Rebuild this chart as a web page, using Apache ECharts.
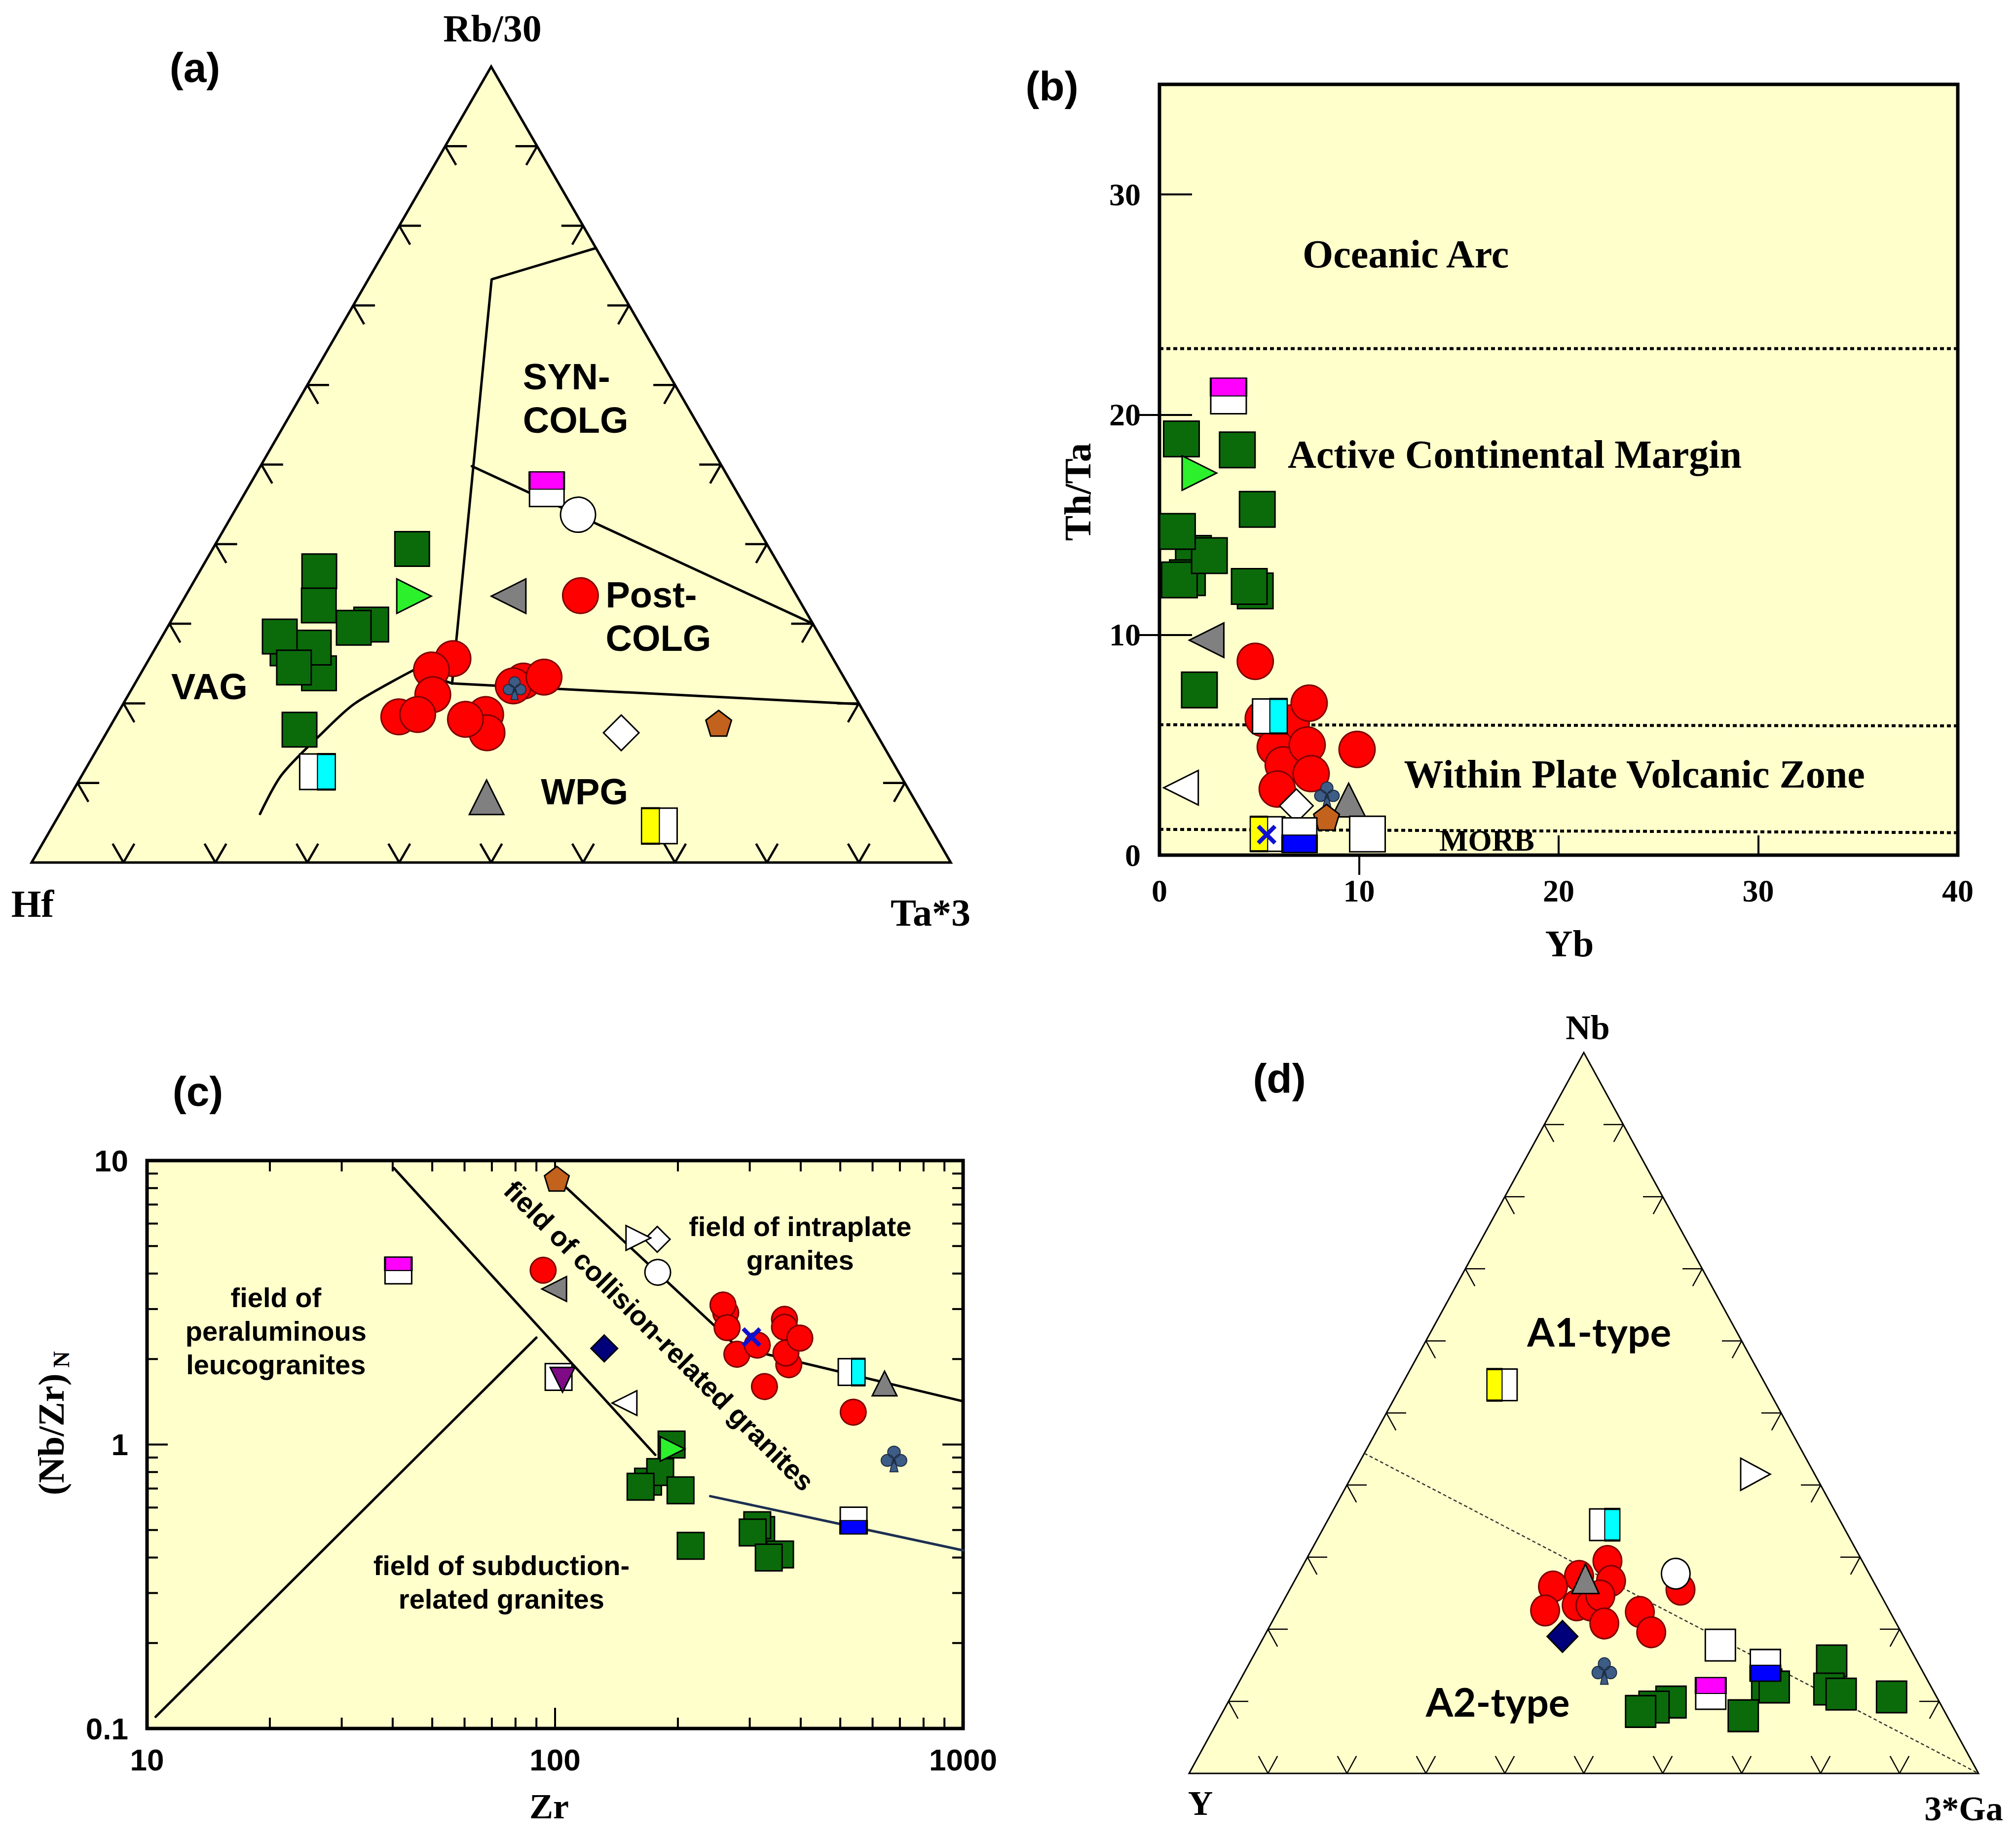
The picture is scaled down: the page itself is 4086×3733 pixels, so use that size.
<!DOCTYPE html>
<html>
<head>
<meta charset="utf-8">
<title>Granite discrimination diagrams (a)-(d)</title>
<script src="https://cdn.jsdelivr.net/npm/echarts@6/dist/echarts.min.js"></script>
<style>
html,body{margin:0;padding:0;background:#ffffff;}
#chart{width:4086px;height:3733px;}
</style>
</head>
<body>
<div id="chart"></div>
<script>
// ======================= DATA =======================
// ---- Panel (a): Hf - Rb/30 - Ta*3 ternary, each point = [Hf, Rb/30, Ta*3] in % ----
const aGreenSquares = [[58.7,26.9,14.4],[56.9,23.8,19.4],[48.1,29.9,22.0],[50.2,29.5,20.3],[50.4,36.6,13.0],[52.6,32.3,15.1],[55.8,27.0,17.2],[58.8,28.4,12.8],[59.2,24.5,16.3],[62.5,16.7,20.8],[38.9,39.4,21.7]];
const aRedCircles = [[23.5,33.5,42.9],[41.3,18.6,40.1],[42.3,16.3,41.4],[43.8,18.0,38.2],[41.3,25.6,33.0],[44.4,24.2,31.4],[45.8,21.1,33.1],[50.9,18.3,30.8],[48.7,18.6,32.7],[35.1,22.8,42.1],[36.5,22.2,41.3],[32.6,23.3,44.1]];
const aLimeTriangle = [[41.7,33.5,24.9]];
const aGrayLeftTriangle = [[31.4,33.5,35.2]];
const aGrayUpTriangle = [[46.4,8.2,45.4]];
const aWhiteCircle = [[18.7,43.7,37.6]];
const aWhiteDiamond = [[27.7,16.3,56.0]];
const aPentagon = [[16.5,17.5,66.0]];
const aClub = [[36.5,21.9,41.6]];
const aMagentaSquare = [[20.5,46.9,32.6]];
const aCyanSquare = [[63.2,11.4,25.4]];
const aYellowSquare = [[29.4,4.6,66.0]];
// field boundaries (a)
const aBoundSyn = [[0,77.2,22.8],[13.3,73.2,13.4],[43.0,22.5,34.5]];
const aBoundPost = [[27.2,49.8,23.0],[0,30.0,70.0]];
const aBoundWPG = [[43.0,22.5,34.5],[0,19.9,80.1]];
const aBoundVAG = [[72.1,6.1,21.8],[67.3,11.0,21.7],[60.2,16.3,23.5],[54.9,20.0,25.2],[46.3,24.2,29.5]];
const aBoundVAGend = [[46.3,24.2,29.5],[43.0,22.5,34.5]];
const aTickPercents = [10,20,30,40,50,60,70,80,90];
const aFieldLabels = [
  {text:'VAG', at:[69.6,22.1,8.3], align:'center'},
  {text:'WPG', at:[35.4,8.9,55.7], align:'center'},
  {text:'SYN-\nCOLG', at:[17.4,58.3,24.3], align:'left'},
  {text:'Post-\nCOLG', at:[22.1,30.9,47.0], align:'left'}
];

// ---- Panel (b): Yb vs Th/Ta, each point = [Yb, Th/Ta] ----
const bGreenSquares = [[1.7,13.7],[1.4,12.6],[1.0,12.5],[2.5,13.6],[0.9,14.7],[4.8,12.0],[4.5,12.2],[1.1,18.9],[3.9,18.4],[4.9,15.7],[2.0,7.5]];
const bRedCircles = [[4.8,8.8],[5.2,6.2],[6.6,6.0],[7.5,6.9],[5.8,4.9],[6.2,4.1],[7.4,5.0],[7.6,3.7],[5.9,3.0],[9.9,4.8]];
const bLimeTriangle = [[2.0,17.35]];
const bGrayLeftTriangle = [[2.36,9.76]];
const bWhiteLeftTriangle = [[1.08,3.06]];
const bWhiteDiamond = [[6.86,2.24]];
const bClub = [[8.39,2.76]];
const bGrayUpTriangle = [[9.48,2.50]];
const bPentagon = [[8.37,1.72]];
const bMagentaSquare = [[3.46,20.85]];
const bCyanSquare = [[5.53,6.31]];
const bYellowSquare = [[5.42,0.96]];
const bBlueCross = [[5.37,0.93]];
const bBlueSquare = [[7.02,0.91]];
const bWhiteSquare = [[10.42,0.96]];
const bLineArc = [[0,23.0],[40,23.0]];
const bLineWPVZ = [[0,5.92],[40,5.87]];
const bLineMORB = [[0,1.17],[40,1.02]];
const bXLabels = [0,10,20,30,40];
const bXTicksIn = [20,30];
const bXTicksOut = [10];
const bYLabels = [0,10,20,30];
const bYTicksLeft = [10,20,30];
const bYTicksRight = [10,20];
const bFieldLabels = [
  {text:'Oceanic Arc', at:[12.34,27.3], size:80},
  {text:'Active Continental Margin', at:[17.8,18.2], size:80},
  {text:'Within Plate Volcanic Zone', at:[23.8,3.68], size:80},
  {text:'MORB', at:[16.4,0.68], size:62}
];

// ---- Panel (c): Zr vs (Nb/Zr)N, each point = [Zr, (Nb/Zr)N] ----
const cGreenSquares = [[169,0.74],[181,0.80],[162,0.71],[203,0.69],[215,0.44],[320,0.50],[313,0.52],[305,0.49],[356,0.41],[334,0.40],[193,1.00]];
const cRedCircles = [[93.5,4.11],[262,2.91],[258,3.10],[264,2.58],[279,2.08],[313,2.24],[365,2.76],[365,2.59],[374,1.91],[368,2.10],[398,2.37],[326,1.60],[538,1.30]];
const cLimeTriangle = [[194,0.965]];
const cGrayLeftTriangle = [[99.5,3.53]];
const cGrayUpTriangle = [[642,1.64]];
const cWhiteCircle = [[178.5,4.04]];
const cWhiteDiamond = [[178,5.28]];
const cWhiteRightTriangle = [[160,5.34]];
const cWhiteLeftTriangle = [[148,1.40]];
const cPentagon = [[101,8.63]];
const cClub = [[677,0.89]];
const cNavyDiamond = [[132,2.18]];
const cWhiteSquare = [[102,1.73]];
const cPurpleTriangle = [[104.3,1.69]];
const cMagentaSquare = [[41.3,4.10]];
const cCyanSquare = [[533,1.80]];
const cBlueSquare = [[539,0.54]];
const cBlueCross = [[303,2.39]];
const cLine1 = [[40.3,9.4],[176,0.92]];
const cLine2 = [[10.5,0.11],[90,2.38]];
const cLine3 = [[101,8.63],[280,2.2],[1000,1.42]];
const cLine4 = [[240,0.658],[1000,0.424]];
const cMinorFactors = [2,3,4,5,6,7,8,9];
const cXDecades = [10,100];
const cYDecades = [0.1,1];
const cXMajorInner = [100];
const cYMajorInner = [1];
const cFieldLabels = [
  {text:'field of intraplate\ngranites', at:[398.7,5.12]},
  {text:'field of\nperaluminous\nleucogranites', at:[20.7,2.51]},
  {text:'field of subduction-\nrelated granites', at:[73.9,0.3275]},
  {text:'field of collision-related granites', at:[179.9,2.416], rot:-45}
];

// ---- Panel (d): Y - Nb - 3*Ga ternary, each point = [Y, Nb, 3*Ga] in % ----
const dRedCircles = [[32.3,29.5,38.3],[33.2,26.7,40.1],[36.9,27.4,35.7],[40.9,25.9,33.1],[43.6,22.6,33.8],[39.2,23.3,37.4],[37.5,23.3,39.2],[35.6,24.7,39.8],[37.0,20.8,42.2],[31.7,22.4,45.9],[31.7,19.6,48.8],[25.0,25.5,49.5]];
const dGreenSquares = [[20.7,12.3,67.1],[19.9,12.0,68.2],[10.8,15.6,73.6],[13.1,11.7,75.2],[11.9,11.0,77.1],[5.7,10.6,83.6],[25.8,8.0,66.2],[34.0,9.9,56.1],[36.5,9.2,54.3],[38.5,8.6,52.9]];
const dGrayUpTriangle = [[36.3,27.0,36.7]];
const dWhiteCircle = [[24.5,27.7,47.8]];
const dNavyDiamond = [[43.2,19.0,37.8]];
const dClub = [[40.3,14.2,45.5]];
const dWhiteSquare = [[23.8,17.8,58.4]];
const dBlueSquare = [[19.5,15.0,65.5]];
const dMagentaSquare = [[28.4,11.1,60.6]];
const dCyanSquare = [[30.1,34.5,35.4]];
const dYellowSquare = [[33.4,53.9,12.7]];
const dWhiteRightTriangle = [[7.5,41.5,51.0]];
const dBoundA1A2 = [[55.6,44.4,0],[0,0,100]];
const dTickPercents = [10,20,30,40,50,60,70,80,90];
const dFieldLabels = [
  {text:'A1-type', at:[17.4,61.3,21.3]},
  {text:'A2-type', at:[55.9,10.0,34.1]}
];

// ======================= STYLE / HELPERS =======================
const BG = '#FFFFCC';
const SERIF = '"Liberation Serif","Times New Roman",serif';
const SANS = '"Liberation Sans",Arial,sans-serif';
const C = {
  green:'#0b6b0b', red:'#ff0000', redEdge:'#7a0000', lime:'#2cf02c', gray:'#808080',
  brown:'#c2621c', club:'#3d5c86', clubEdge:'#1c2c44', navy:'#00007a', purple:'#7e0a86',
  magenta:'#ff00ff', cyan:'#00ffff', yellow:'#ffff00', blue:'#0000ff', cross:'#1010d0'
};
const SYM = {
  pentagon:'path://M50,0 L100,38 L81,100 L19,100 L0,38 Z',
  club:'path://M28,27 a22,22 0 1,0 44,0 a22,22 0 1,0 -44,0 Z M5,58 a22,22 0 1,0 44,0 a22,22 0 1,0 -44,0 Z M51,58 a22,22 0 1,0 44,0 a22,22 0 1,0 -44,0 Z M46,55 L36,100 L64,100 L54,55 Z',
  cross:'path://M0,15 L15,0 L50,35 L85,0 L100,15 L65,50 L100,85 L85,100 L50,65 L15,100 L0,85 L35,50 Z'
};
const AXX = [0,1,3,4], AXY = [0,1,3,4];
const isTern = g => g === 0 || g === 3;
function tern(p){ const s = p[0]+p[1]+p[2]; return [(p[2] + p[1]/2)/s, p[1]/s]; }
function mapData(g, list){ return list.map(p => isTern(g) ? tern(p) : p.slice()); }

const series = [];
let zc = 20;
function pts(g, list, o){
  series.push({
    type:'scatter', xAxisIndex:AXX[g], yAxisIndex:AXY[g], z:zc++, silent:true,
    data:mapData(g, list), symbol:o.symbol, symbolSize:o.size, symbolRotate:o.rotate || 0,
    symbolOffset:o.offset || [0,0],
    itemStyle:{color:o.color, borderColor:o.border || '#000', borderWidth:(o.bw == null ? 3 : o.bw), opacity:1},
    emphasis:{disabled:true}
  });
}
function split(g, list, size, color, half){
  const w = Array.isArray(size) ? size[0] : size, h = Array.isArray(size) ? size[1] : size;
  pts(g, list, {symbol:'rect', size:[w,h], color:'#ffffff'});
  let sz, off;
  if (half === 'top') { sz = [w, h/2]; off = [0, -h/4]; }
  else if (half === 'bottom') { sz = [w, h/2]; off = [0, h/4]; }
  else if (half === 'left') { sz = [w/2, h]; off = [-w/4, 0]; }
  else { sz = [w/2, h]; off = [w/4, 0]; }
  pts(g, list, {symbol:'rect', size:sz, offset:off, color:color});
}
function line(g, list, o){
  series.push({
    type:'line', xAxisIndex:AXX[g], yAxisIndex:AXY[g], z:o.z || 6, silent:true,
    data:mapData(g, list), symbol:'none', smooth:o.smooth || false,
    lineStyle:{color:o.color || '#000', width:o.width || 5, type:o.type || 'solid', cap:o.cap || 'round'}
  });
}
function triFrame(g, width){
  series.push({
    type:'custom', xAxisIndex:AXX[g], yAxisIndex:AXY[g], z:1, silent:true, data:[[0,0]],
    renderItem:(params, api) => {
      const A = api.coord([0,0]), B = api.coord([1,0]), T = api.coord([0.5,1]);
      return {type:'polygon', shape:{points:[A,B,T]}, style:{fill:BG, stroke:'#000', lineWidth:width, lineJoin:'miter'}};
    }
  });
}
function triTicks(g, percents, len, width){
  series.push({
    type:'custom', xAxisIndex:AXX[g], yAxisIndex:AXY[g], z:3, silent:true, data:[[0,0]],
    renderItem:(params, api) => {
      const A = api.coord([0,0]), B = api.coord([1,0]), T = api.coord([0.5,1]);
      const u = (P, Q) => { const dx = Q[0]-P[0], dy = Q[1]-P[1], l = Math.hypot(dx, dy); return [dx/l, dy/l]; };
      const ch = [];
      const arm = (p, d) => ch.push({type:'line', shape:{x1:p[0], y1:p[1], x2:p[0]+d[0]*len, y2:p[1]+d[1]*len}, style:{stroke:'#000', lineWidth:width}});
      percents.forEach(pc => {
        const t = pc/100;
        const pl = [A[0]+(T[0]-A[0])*t, A[1]+(T[1]-A[1])*t];
        arm(pl, u(A,B)); arm(pl, u(T,B));
        const pr = [B[0]+(T[0]-B[0])*t, B[1]+(T[1]-B[1])*t];
        arm(pr, u(B,A)); arm(pr, u(T,A));
        const pb = [A[0]+(B[0]-A[0])*t, A[1]];
        arm(pb, u(B,T)); arm(pb, u(A,T));
      });
      return {type:'group', children:ch};
    }
  });
}
function labels(g, list, font, lineHeight){
  series.push({
    type:'custom', xAxisIndex:AXX[g], yAxisIndex:AXY[g], z:80, silent:true,
    data:list.map(d => isTern(g) ? tern(d.at) : d.at.slice()),
    renderItem:(params, api) => {
      const d = list[params.dataIndex];
      const p = api.coord([api.value(0), api.value(1)]);
      return {type:'text', x:p[0], y:p[1], rotation:d.rot ? d.rot*Math.PI/180 : 0,
        style:{text:d.text, font:d.size ? ('bold ' + d.size + 'px ' + SERIF) : font, fill:'#000',
               align:d.align || 'center', verticalAlign:'middle', lineHeight:lineHeight}};
    }
  });
}

// ======================= PANEL (a) =======================
triFrame(0, 5);
triTicks(0, aTickPercents, 44, 4.5);
line(0, aBoundSyn, {});
line(0, aBoundPost, {});
line(0, aBoundWPG, {});
line(0, aBoundVAG, {smooth:0.3});
line(0, aBoundVAGend, {});
pts(0, aGreenSquares, {symbol:'rect', size:70, color:C.green});
pts(0, aLimeTriangle, {symbol:'triangle', size:70, rotate:-90, color:C.lime});
pts(0, aGrayLeftTriangle, {symbol:'triangle', size:70, rotate:90, color:C.gray});
pts(0, aRedCircles, {symbol:'circle', size:72, color:C.red, border:C.redEdge});
pts(0, aClub, {symbol:SYM.club, size:46, color:C.club, border:C.clubEdge, bw:2});
pts(0, aGrayUpTriangle, {symbol:'triangle', size:70, color:C.gray});
pts(0, aWhiteDiamond, {symbol:'diamond', size:72, color:'#ffffff'});
pts(0, aPentagon, {symbol:SYM.pentagon, size:52, color:C.brown});
split(0, aMagentaSquare, 70, C.magenta, 'top');
pts(0, aWhiteCircle, {symbol:'circle', size:71, color:'#ffffff'});
split(0, aCyanSquare, 72, C.cyan, 'right');
split(0, aYellowSquare, 72, C.yellow, 'left');
labels(0, aFieldLabels, 'bold 74px ' + SANS, 88);

// ======================= PANEL (b) =======================
line(1, bLineArc, {width:6, type:[8,6], cap:'butt'});
line(1, bLineWPVZ, {width:6, type:[8,6], cap:'butt'});
line(1, bLineMORB, {width:6, type:[8,6], cap:'butt'});
pts(1, bGreenSquares, {symbol:'rect', size:72, color:C.green});
pts(1, bLimeTriangle, {symbol:'triangle', size:70, rotate:-90, color:C.lime});
pts(1, bGrayLeftTriangle, {symbol:'triangle', size:70, rotate:90, color:C.gray});
pts(1, bRedCircles, {symbol:'circle', size:73, color:C.red, border:C.redEdge});
split(1, bMagentaSquare, 72, C.magenta, 'top');
split(1, bCyanSquare, 70, C.cyan, 'right');
pts(1, bWhiteLeftTriangle, {symbol:'triangle', size:70, rotate:90, color:'#ffffff'});
pts(1, bWhiteDiamond, {symbol:'diamond', size:68, color:'#ffffff'});
pts(1, bClub, {symbol:SYM.club, size:50, color:C.club, border:C.clubEdge, bw:2});
pts(1, bGrayUpTriangle, {symbol:'triangle', size:68, color:C.gray});
pts(1, bPentagon, {symbol:SYM.pentagon, size:52, color:C.brown});
split(1, bYellowSquare, 70, C.yellow, 'left');
pts(1, bBlueCross, {symbol:SYM.cross, size:40, color:C.cross, bw:0});
split(1, bBlueSquare, 70, C.blue, 'bottom');
pts(1, bWhiteSquare, {symbol:'rect', size:72, color:'#ffffff'});
labels(1, bFieldLabels, 'bold 80px ' + SERIF);

// ======================= PANEL (c) =======================
const cXTicks = cXDecades.flatMap(d => cMinorFactors.map(f => f*d)).concat(cXMajorInner);
const cYTicks = cYDecades.flatMap(d => cMinorFactors.map(f => +(f*d).toPrecision(3))).concat(cYMajorInner);
series.push({
  type:'custom', xAxisIndex:3, yAxisIndex:3, z:4, silent:true, data:cXTicks.map(v => [v, 1]),
  renderItem:(params, api) => {
    const v = api.value(0), p = api.coord([v, 1]), cs = params.coordSys;
    const len = cXMajorInner.includes(v) ? 42 : 22;
    return {type:'group', children:[
      {type:'line', shape:{x1:p[0], y1:cs.y+cs.height, x2:p[0], y2:cs.y+cs.height-len}, style:{stroke:'#000', lineWidth:4}},
      {type:'line', shape:{x1:p[0], y1:cs.y, x2:p[0], y2:cs.y+len}, style:{stroke:'#000', lineWidth:4}}
    ]};
  }
});
series.push({
  type:'custom', xAxisIndex:3, yAxisIndex:3, z:4, silent:true, data:cYTicks.map(v => [10, v]),
  renderItem:(params, api) => {
    const v = api.value(1), p = api.coord([10, v]), cs = params.coordSys;
    const len = cYMajorInner.includes(v) ? 42 : 22;
    return {type:'group', children:[
      {type:'line', shape:{x1:cs.x, y1:p[1], x2:cs.x+len, y2:p[1]}, style:{stroke:'#000', lineWidth:4}},
      {type:'line', shape:{x1:cs.x+cs.width, y1:p[1], x2:cs.x+cs.width-len, y2:p[1]}, style:{stroke:'#000', lineWidth:4}}
    ]};
  }
});
line(2, cLine1, {width:5});
line(2, cLine2, {width:5});
line(2, cLine3, {width:5});
line(2, cLine4, {width:5, color:'#1d2f52'});
pts(2, cGreenSquares, {symbol:'rect', size:54, color:C.green});
pts(2, cLimeTriangle, {symbol:'triangle', size:50, rotate:-90, color:C.lime});
pts(2, cRedCircles, {symbol:'circle', size:52, color:C.red, border:C.redEdge});
pts(2, cBlueCross, {symbol:SYM.cross, size:40, color:C.cross, bw:0});
pts(2, cGrayLeftTriangle, {symbol:'triangle', size:50, rotate:90, color:C.gray});
pts(2, cGrayUpTriangle, {symbol:'triangle', size:50, color:C.gray});
pts(2, cWhiteCircle, {symbol:'circle', size:52, color:'#ffffff'});
pts(2, cWhiteDiamond, {symbol:'diamond', size:52, color:'#ffffff'});
pts(2, cWhiteRightTriangle, {symbol:'triangle', size:50, rotate:-90, color:'#ffffff'});
pts(2, cWhiteLeftTriangle, {symbol:'triangle', size:50, rotate:90, color:'#ffffff'});
pts(2, cPentagon, {symbol:SYM.pentagon, size:50, color:C.brown});
pts(2, cClub, {symbol:SYM.club, size:52, color:C.club, border:C.clubEdge, bw:2});
pts(2, cNavyDiamond, {symbol:'diamond', size:54, color:C.navy});
pts(2, cWhiteSquare, {symbol:'rect', size:54, color:'#ffffff'});
pts(2, cPurpleTriangle, {symbol:'triangle', size:50, rotate:180, color:C.purple});
split(2, cMagentaSquare, 54, C.magenta, 'top');
split(2, cCyanSquare, 54, C.cyan, 'right');
split(2, cBlueSquare, 54, C.blue, 'bottom');
labels(2, cFieldLabels, 'bold 56px ' + SANS, 68);

// ======================= PANEL (d) =======================
triFrame(3, 3);
triTicks(3, dTickPercents, 40, 2.5);
line(3, dBoundA1A2, {width:2.5, type:[7,5], color:'#333', cap:'butt'});
pts(3, dRedCircles, {symbol:'circle', size:[58,62], color:C.red, border:C.redEdge});
pts(3, dGrayUpTriangle, {symbol:'triangle', size:[55,60], color:C.gray});
pts(3, dWhiteCircle, {symbol:'circle', size:[58,62], color:'#ffffff'});
pts(3, dNavyDiamond, {symbol:'diamond', size:[62,64], color:C.navy});
pts(3, dClub, {symbol:SYM.club, size:[50,54], color:C.club, border:C.clubEdge, bw:2});
pts(3, dGreenSquares, {symbol:'rect', size:[61,64], color:C.green});
pts(3, dWhiteSquare, {symbol:'rect', size:[61,64], color:'#ffffff'});
split(3, dBlueSquare, [61,64], C.blue, 'bottom');
split(3, dMagentaSquare, [61,64], C.magenta, 'top');
split(3, dCyanSquare, [61,64], C.cyan, 'right');
split(3, dYellowSquare, [61,64], C.yellow, 'left');
pts(3, dWhiteRightTriangle, {symbol:'triangle', size:[65,60], rotate:-90, color:'#ffffff'});
labels(3, dFieldLabels, 'bold 80px Lato, ' + SANS);

// ======================= TEXT OUTSIDE PLOTS =======================
function txt(t, x, y, font, rot){
  return {type:'text', x:x, y:y, rotation:rot || 0, silent:true, z:100,
    style:{text:t, font:font, fill:'#000', align:'center', verticalAlign:'middle'}};
}
const graphic = [
  txt('(a)', 395, 137, 'bold 84px ' + SANS),
  txt('(b)', 2132, 175, 'bold 84px ' + SANS),
  txt('(c)', 401, 2212, 'bold 84px ' + SANS),
  txt('(d)', 2593, 2186, 'bold 84px ' + SANS),
  txt('Rb/30', 998, 57, 'bold 78px ' + SERIF),
  txt('Hf', 66, 1831, 'bold 78px ' + SERIF),
  txt('Ta*3', 1886, 1849, 'bold 78px ' + SERIF),
  txt('Th/Ta', 2184, 997, 'bold 77px ' + SERIF, Math.PI/2),
  txt('Yb', 3181, 1912, 'bold 77px ' + SERIF),
  txt('Zr', 1113, 3661, 'bold 72px ' + SERIF),
  {type:'group', x:104, y:2907, rotation:Math.PI/2, silent:true, z:100, children:[
    {type:'text', x:0, y:0, style:{text:'(Nb/Zr)', font:'bold 74px ' + SERIF, fill:'#000', align:'center', verticalAlign:'middle'}},
    {type:'text', x:152, y:20, style:{text:'N', font:'bold 46px ' + SERIF, fill:'#000', align:'center', verticalAlign:'middle'}}
  ]},
  txt('Nb', 3218, 2082, 'bold 70px ' + SERIF),
  txt('Y', 2433, 3654, 'bold 70px ' + SERIF),
  txt('3*Ga', 3980, 3665, 'bold 70px ' + SERIF)
];

// ======================= OPTION =======================
const hiddenAxis = g => ({gridIndex:g, type:'value', min:0, max:1, show:false});
const tickFont = {color:'#000', fontFamily:SERIF, fontWeight:'bold', fontSize:64};
const plainNumber = v => String(+(+v).toPrecision(6));
const option = {
  animation:false,
  backgroundColor:'#ffffff',
  grid:[
    {left:64, top:135, width:1863, height:1613},
    {left:2350, top:171, width:1618, height:1562, show:true, backgroundColor:BG, borderColor:'#000', borderWidth:7},
    {left:298, top:2352, width:1654, height:1151, show:true, backgroundColor:BG, borderColor:'#000', borderWidth:7},
    {left:2410, top:2133, width:1600, height:1461}
  ],
  xAxis:[
    hiddenAxis(0),
    {gridIndex:1, type:'value', min:0, max:40, interval:10, position:'bottom',
     axisLine:{show:false}, splitLine:{show:false},
     axisTick:{show:true, inside:true, length:40, customValues:bXTicksIn, lineStyle:{color:'#000', width:4}},
     axisLabel:Object.assign({show:true, margin:40, customValues:bXLabels}, tickFont)},
    {gridIndex:1, type:'value', min:0, max:40, interval:10, position:'bottom',
     axisLine:{show:false}, splitLine:{show:false}, axisLabel:{show:false},
     axisTick:{show:true, inside:false, length:40, customValues:bXTicksOut, lineStyle:{color:'#000', width:4}}},
    {gridIndex:2, type:'log', logBase:10, min:10, max:1000,
     axisLine:{show:false}, axisTick:{show:false}, splitLine:{show:false},
     minorTick:{show:false}, minorSplitLine:{show:false},
     axisLabel:{margin:32, color:'#000', fontFamily:SANS, fontWeight:'bold', fontSize:62, formatter:plainNumber}},
    hiddenAxis(3)
  ],
  yAxis:[
    hiddenAxis(0),
    {gridIndex:1, type:'value', min:0, max:35, interval:10, position:'left',
     axisLine:{show:false}, splitLine:{show:false},
     axisTick:{show:true, inside:true, length:66, customValues:bYTicksLeft, lineStyle:{color:'#000', width:4}},
     axisLabel:Object.assign({show:true, margin:38, customValues:bYLabels}, tickFont)},
    {gridIndex:1, type:'value', min:0, max:35, interval:10, position:'right',
     axisLine:{show:false}, splitLine:{show:false}, axisLabel:{show:false},
     axisTick:{show:true, inside:true, length:43, customValues:bYTicksRight, lineStyle:{color:'#000', width:4}}},
    {gridIndex:2, type:'log', logBase:10, min:0.1, max:10,
     axisLine:{show:false}, axisTick:{show:false}, splitLine:{show:false},
     minorTick:{show:false}, minorSplitLine:{show:false},
     axisLabel:{margin:38, color:'#000', fontFamily:SANS, fontWeight:'bold', fontSize:62, formatter:plainNumber}},
    hiddenAxis(3)
  ],
  series:series,
  graphic:graphic
};
const chart = echarts.init(document.getElementById('chart'), null, {renderer:'svg', width:4086, height:3733});
chart.setOption(option);
</script>
</body>
</html>
